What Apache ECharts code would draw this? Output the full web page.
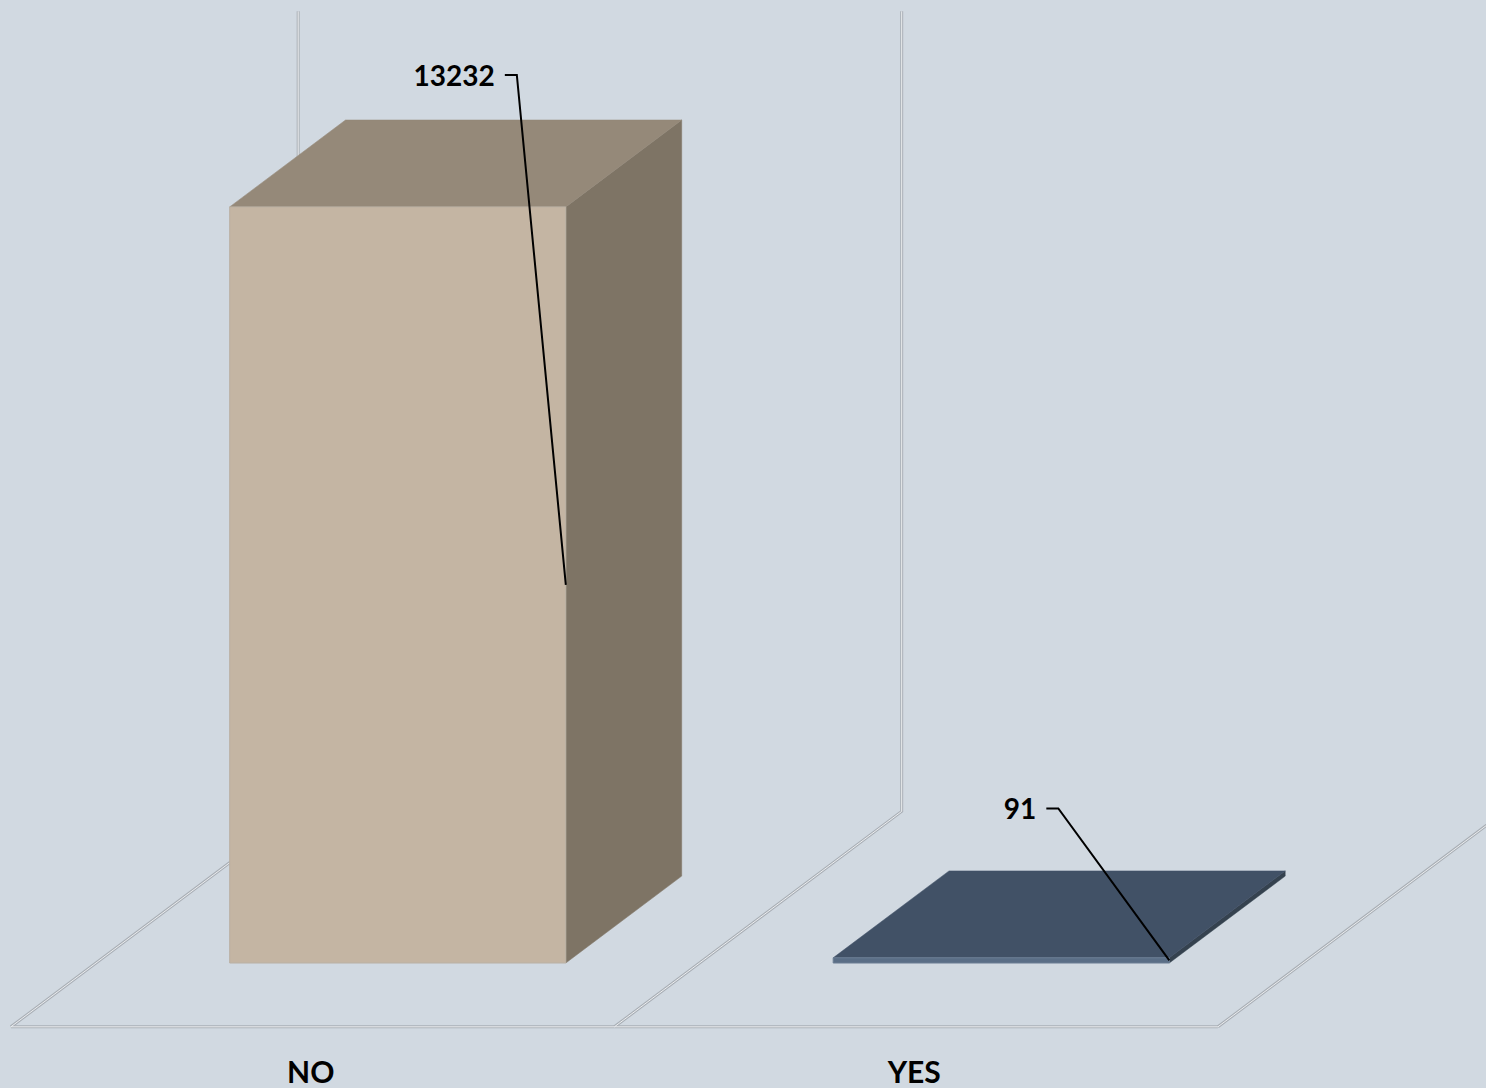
<!DOCTYPE html>
<html><head><meta charset="utf-8">
<script src="https://cdn.jsdelivr.net/npm/echarts@6/dist/echarts.min.js"></script>
<style>html,body{margin:0;padding:0;background:#d1d9e1}#c{width:1486px;height:1088px}</style>
</head><body><div id="c"></div>
<script>
// ---- data ----
const categories = ['NO', 'YES'];
const values = [13232, 91];
const axisMin = 0;
const axisMax = 14000;

// ---- styling / layout constants ----
const faceColors = [
  { front: '#c4b5a3', top: '#958979', side: '#7e7465', edge: '#b9b0a4' },
  { front: '#5a6e86', top: '#415166', side: '#35424f', edge: '#6a7d93' }
];
const BAR_W = 0.557;        // bar width as fraction of band
const DEPTH = 0.192;        // bar depth (x shift) as fraction of band
const FLOOR_FRONT = 0.141;  // floor front edge offset (toward viewer)
const FLOOR_BACK = 0.335;   // back wall offset (away from viewer)
const SLANT = 0.75;         // dy/dx of the oblique projection
const labelOffsets = [[-49, -510], [-111, -152]]; // leader-line bend relative to anchor
const LABEL_FONT = 'bold 28px Lato';

function dblLine(points, z) {
  return [
    { type: 'polyline', z2: z, shape: { points }, style: { stroke: '#a9afb6', lineWidth: 3, fill: null } },
    { type: 'polyline', z2: z + 1, shape: { points }, style: { stroke: '#eceef0', lineWidth: 1, fill: null } }
  ];
}

function renderFrame(params, api) {
  const i = api.value(0);
  const c = api.coord([i, axisMin]);
  const topY = api.coord([i, axisMax])[1];
  const bw = api.size([1, 0])[0];
  const base = c[1];
  const left = c[0] - bw / 2, right = c[0] + bw / 2;
  const fdx = -FLOOR_FRONT * bw, fdy = FLOOR_FRONT * bw * SLANT;
  const bdx = FLOOR_BACK * bw, bdy = -FLOOR_BACK * bw * SLANT;
  let children = [];
  children = children.concat(dblLine([[left + fdx, base + fdy], [right + fdx, base + fdy]], 1));
  children = children.concat(dblLine([[left + fdx, base + fdy], [left + bdx, base + bdy], [left + bdx, topY + bdy]], 1));
  if (i === categories.length - 1) {
    children = children.concat(dblLine([[right + fdx, base + fdy], [right + bdx, base + bdy], [right + bdx, topY + bdy]], 1));
  }
  return { type: 'group', children };
}

function renderBar(params, api) {
  const i = api.value(0), v = api.value(1);
  const p0 = api.coord([i, axisMin]);
  const p1 = api.coord([i, v]);
  const bw = api.size([1, 0])[0];
  const w = BAR_W * bw, d = DEPTH * bw;
  const dx = d, dy = -d * SLANT;
  const x0 = p0[0] - w / 2, x1 = p0[0] + w / 2, yb = p0[1], yt = p1[1];
  const col = faceColors[i];
  const anchor = [x1, (yt + yb) / 2];
  const bend = [anchor[0] + labelOffsets[i][0], anchor[1] + labelOffsets[i][1]];
  const hook = [bend[0] - 12, bend[1]];
  return {
    type: 'group',
    children: [
      { type: 'polygon', shape: { points: [[x1, yt], [x1 + dx, yt + dy], [x1 + dx, yb + dy], [x1, yb]] },
        style: { fill: col.side, stroke: col.side, lineWidth: 0.5 } },
      { type: 'polygon', shape: { points: [[x0, yt], [x1, yt], [x1 + dx, yt + dy], [x0 + dx, yt + dy]] },
        style: { fill: col.top, stroke: col.top, lineWidth: 0.5 } },
      { type: 'rect', shape: { x: x0, y: yt, width: w, height: yb - yt },
        style: { fill: col.front, stroke: col.edge, lineWidth: 1 } },
      { type: 'polyline', z2: 10, shape: { points: [hook, bend, anchor] },
        style: { stroke: '#000', lineWidth: 2, fill: null } },
      { type: 'text', z2: 10, style: {
          text: String(v), x: hook[0] - 10, y: bend[1],
          align: 'right', verticalAlign: 'middle', textAlign: 'right', textVerticalAlign: 'middle',
          font: LABEL_FONT, fill: '#000' } }
    ]
  };
}

const chart = echarts.init(document.getElementById('c'), null, { renderer: 'svg' });
chart.setOption({
  animation: false,
  backgroundColor: '#d1d9e1',
  grid: { left: 96, right: 183, top: 163, bottom: 125 },
  xAxis: {
    type: 'category', data: categories,
    axisLine: { show: false }, axisTick: { show: false }, splitLine: { show: false },
    axisLabel: { margin: 93, padding: [0, 174, 0, 0], color: '#000',
      fontFamily: 'Lato', fontWeight: 'bold', fontSize: 30 }
  },
  yAxis: { type: 'value', min: axisMin, max: axisMax, show: false },
  series: [
    { type: 'custom', name: 'frame', clip: false, z: 1, silent: true,
      data: categories.map((c, i) => [i]), renderItem: renderFrame },
    { type: 'custom', name: 'bars', clip: false, z: 5, silent: true,
      data: values.map((v, i) => [i, v]), renderItem: renderBar }
  ]
});
</script>
</body></html>
